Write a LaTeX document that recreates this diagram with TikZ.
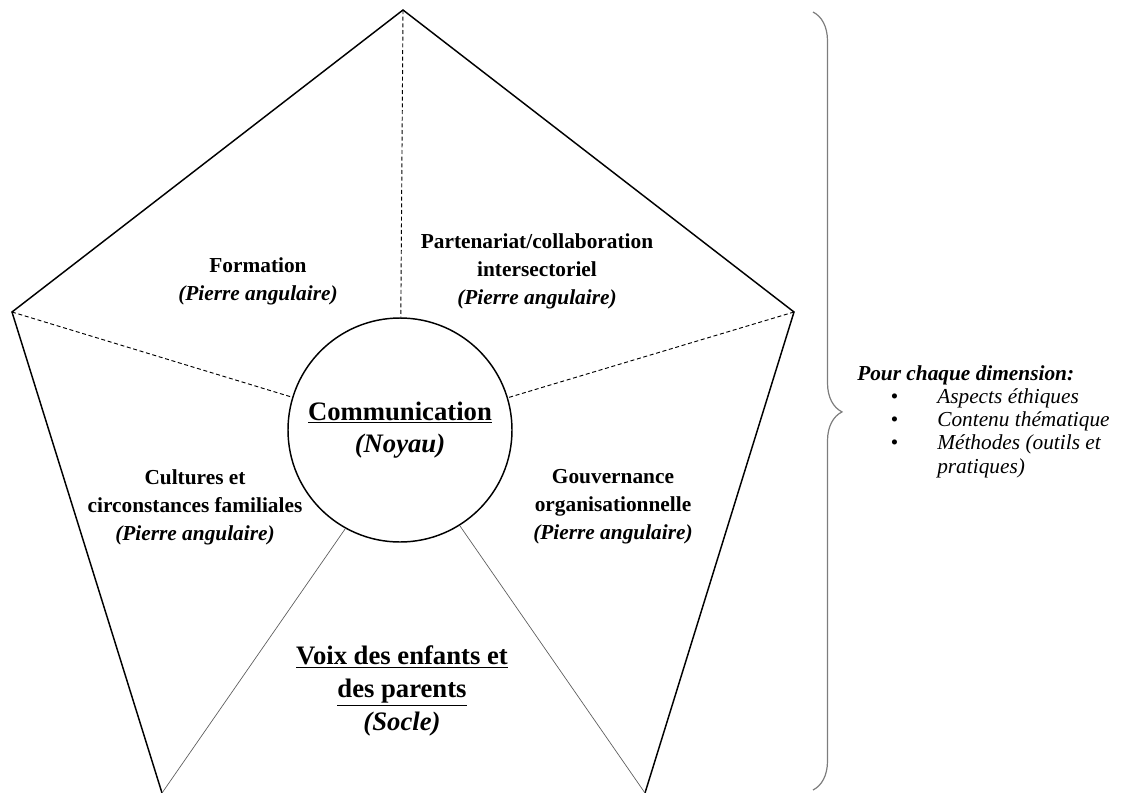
\documentclass[tikz,border=0pt]{standalone}
\usepackage{fontspec}
\setmainfont{Liberation Serif}
\usetikzlibrary{positioning,decorations.pathreplacing}
\definecolor{braceGray}{RGB}{125,125,125}
\definecolor{spokeGray}{RGB}{90,90,90}

\begin{document}
\begin{tikzpicture}[x=0.75pt,y=0.75pt]
  \useasboundingbox (0,0) rectangle (1122,-793);
  \coordinate (pentT) at (403,-10);
  \coordinate (pentL) at (12,-312);
  \coordinate (pentR) at (794,-312);
  \coordinate (pentBL) at (162,-793);
  \coordinate (pentBR) at (645,-793);
  \begin{scope}[every node/.style={draw,circle,line width=1.1pt,inner sep=0pt,
      minimum size=168pt,align=center,font=\fontsize{20}{24}\selectfont\bfseries}]
    \node (pentCore) at (400,-430) {\underline{Communication}\\\textit{(Noyau)}};
  \end{scope}
  \begin{scope}[every node/.style={align=center,font=\fontsize{16}{21}\selectfont\bfseries}]
    \node (dimForm) at (258,-281) {Formation\\\textit{(Pierre angulaire)}};
    \node (dimPart) at (537,-271) {Partenariat/collaboration\\intersectoriel\\\textit{(Pierre angulaire)}};
    \node (dimCult) at (195,-507) {Cultures et\\circonstances familiales\\\textit{(Pierre angulaire)}};
    \node (dimGouv) at (613,-507) {Gouvernance\\organisationnelle\\\textit{(Pierre angulaire)}};
    \node[font=\fontsize{20}{24.5}\selectfont\bfseries] (dimVoix) at (402,-691)
      {\underline{Voix des enfants et}\\\underline{des parents}\\\textit{(Socle)}};
  \end{scope}
  \begin{scope}[
    outer/.style={draw,line width=1.1pt},
    split/.style={draw,line width=0.7pt,dash pattern=on 3pt off 2pt},
    spoke/.style={draw=spokeGray,line width=0.5pt},
    ]
    \path[outer] (pentBL) -- (pentL) -- (pentT) -- (pentR) -- (pentBR);
    \path[split] (pentT) -- (pentCore) (pentL) -- (pentCore) (pentR) -- (pentCore);
    \path[spoke] (pentCore.241) -- (pentBL) (pentCore.302) -- (pentBR);
  \end{scope}
  \coordinate (braceTop) at (813,-12);
  \coordinate (braceBot) at (813,-790);
  \draw[braceGray,line width=0.9pt,decorate,
    decoration={brace,amplitude=21.75pt,aspect=0.514}] (braceTop) -- (braceBot);
  \begin{scope}[node distance=17.5pt,
    every node/.style={font=\fontsize{16}{17.5}\selectfont\itshape,inner sep=0pt,anchor=base west}]
    \node (listHead) at (857,-380) {\bfseries Pour chaque dimension:};
    \node (listA) at (937,-403) {Aspects éthiques};
    \node[below=of listA.base west,anchor=base west] (listB) {Contenu thématique};
    \node[below=of listB.base west,anchor=base west] (listC) {Méthodes (outils et};
    \node[below=of listC.base west,anchor=base west] (listD) {pratiques)};
    \node[left=35pt of listA.base west,anchor=base west] (bulA) {\textbullet};
    \node[left=35pt of listB.base west,anchor=base west] (bulB) {\textbullet};
    \node[left=35pt of listC.base west,anchor=base west] (bulC) {\textbullet};
  \end{scope}
\end{tikzpicture}
\end{document}
